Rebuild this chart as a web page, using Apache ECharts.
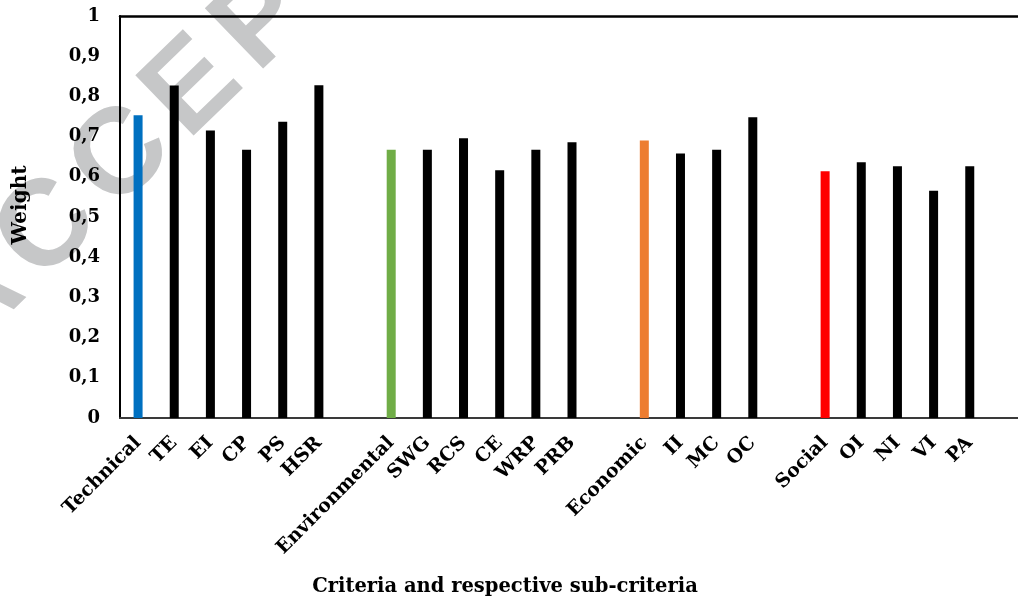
<!DOCTYPE html>
<html>
<head>
<meta charset="utf-8">
<script src="https://cdn.jsdelivr.net/npm/echarts@6/dist/echarts.min.js"></script>
<style>
  html, body { margin: 0; padding: 0; background: #ffffff; overflow: hidden; }
  #chart { width: 1024px; height: 602px; }
</style>
</head>
<body>
<div id="chart"></div>
<script>
// Criteria and their sub-criteria; empty strings are spacer slots between groups
const categories = [
  'Technical', 'TE', 'EI', 'CP', 'PS', 'HSR', '',
  'Environmental', 'SWG', 'RCS', 'CE', 'WRP', 'PRB', '',
  'Economic', 'II', 'MC', 'OC', '',
  'Social', 'OI', 'NI', 'VI', 'PA', ''
];

// Weight of each criterion / sub-criterion (null for spacer slots)
const weights = [
  0.753, 0.827, 0.715, 0.667, 0.737, 0.828, null,
  0.667, 0.667, 0.696, 0.616, 0.667, 0.686, null,
  0.690, 0.658, 0.667, 0.748, null,
  0.614, 0.636, 0.626, 0.565, 0.626, null
];

// Y axis tick values
const yTicks = [0, 0.1, 0.2, 0.3, 0.4, 0.5, 0.6, 0.7, 0.8, 0.9, 1];

const yAxisTitle = 'Weight';
const xAxisTitle = 'Criteria and respective sub-criteria';
const stampText = 'ACCEPTED MANUSCRIPT';

// Main criteria get their own colour; sub-criteria are black
const headColours = {
  Technical: '#0070C0',
  Environmental: '#70AD47',
  Economic: '#ED7D31',
  Social: '#FF0000'
};

const serif = '"DejaVu Serif", "Liberation Serif", serif';

// Diagonal stamp: letters laid out one by one with extra tracking
const stampFont = 'bold 122px "Liberation Sans", Arial, sans-serif';
const stampTracking = 15;
function stampLetters() {
  const ctx = document.createElement('canvas').getContext('2d');
  ctx.font = stampFont;
  const chars = Array.from(stampText);
  const widths = chars.map(c => ctx.measureText(c).width);
  // local x of each letter's centre, with the third letter at the group origin
  const centres = [];
  let x = 0;
  chars.forEach((c, i) => {
    centres.push(x + widths[i] / 2);
    x += widths[i] + stampTracking;
  });
  const shift = centres[2];
  return chars.map((c, i) => ({
    type: 'text',
    x: centres[i] - shift,
    y: 0,
    style: {
      text: c,
      font: stampFont,
      fill: '#c6c7c8',
      align: 'center',
      verticalAlign: 'middle'
    }
  }));
}

const chart = echarts.init(document.getElementById('chart'), null, { renderer: 'canvas' });

chart.setOption({
  animation: false,
  backgroundColor: '#ffffff',
  grid: { left: 120, right: 0, top: 16, bottom: 184, containLabel: false },
  graphic: [
    {
      type: 'group',
      z: -10,
      x: 122, y: 158,
      rotation: 44 * Math.PI / 180,
      children: stampLetters()
    },
    {
      type: 'text',
      x: 505, y: 587,
      style: {
        text: xAxisTitle,
        font: 'bold 19.5px ' + serif,
        fill: '#000000',
        align: 'center',
        verticalAlign: 'middle'
      }
    }
  ],
  xAxis: [
    {
      type: 'category',
      data: categories,
      axisLine: { show: true, lineStyle: { color: '#3a3a3a', width: 2 } },
      axisTick: { show: false },
      axisLabel: {
        interval: 0,
        rotate: 45,
        margin: 22,
        color: '#000000',
        fontFamily: serif,
        fontWeight: 'bold',
        fontSize: 19
      }
    },
    {
      type: 'category',
      position: 'top',
      data: categories,
      axisLine: { show: true, lineStyle: { color: '#000000', width: 2.5 } },
      axisTick: { show: false },
      axisLabel: { show: false }
    }
  ],
  yAxis: {
    type: 'value',
    min: yTicks[0],
    max: yTicks[yTicks.length - 1],
    interval: 0.1,
    name: yAxisTitle,
    nameLocation: 'middle',
    nameGap: 89,
    nameTextStyle: {
      color: '#000000',
      fontFamily: serif,
      fontWeight: 'bold',
      fontSize: 20,
      padding: [0, 0, 0, 24]
    },
    axisLine: { show: true, lineStyle: { color: '#000000', width: 2 } },
    axisTick: { show: false },
    splitLine: { show: false },
    axisLabel: {
      margin: 20,
      color: '#000000',
      fontFamily: serif,
      fontWeight: 'bold',
      fontSize: 18,
      formatter: v => {
        const t = yTicks.find(k => Math.abs(k - v) < 1e-9);
        const val = t === undefined ? v : t;
        return String(Math.round(val * 10) / 10).replace('.', ',');
      }
    }
  },
  series: [
    {
      type: 'bar',
      barWidth: 9,
      data: weights.map((w, i) => ({
        value: w,
        itemStyle: { color: headColours[categories[i]] || '#000000' }
      }))
    }
  ]
});
</script>
</body>
</html>
